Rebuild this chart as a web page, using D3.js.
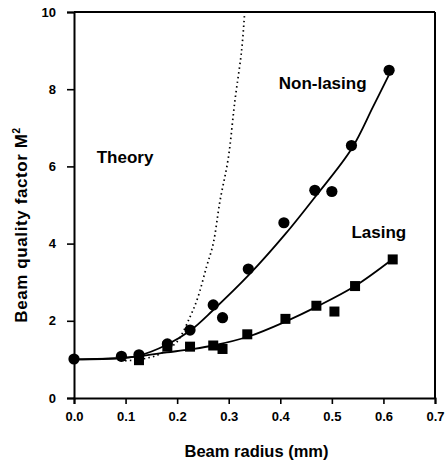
<!DOCTYPE html>
<html>
<head>
<meta charset="utf-8">
<script src="https://cdn.jsdelivr.net/npm/d3@7/dist/d3.min.js"></script>
<style>
  html, body { margin: 0; padding: 0; background: #fff; }
  svg { display: block; }
  text { font-family: "Liberation Sans", Arial, Helvetica, sans-serif; font-weight: bold; fill: #000; }
</style>
</head>
<body>
<svg id="chart" width="445" height="466"></svg>
<script>
// Measured beam quality factor M² versus beam radius (mm)
const nonLasingRadius = [0.0, 0.092, 0.126, 0.181, 0.225, 0.270, 0.288, 0.338, 0.407, 0.467, 0.500, 0.538, 0.611];
const nonLasingM2     = [1.01, 1.08, 1.12, 1.40, 1.76, 2.41, 2.08, 3.34, 4.54, 5.38, 5.35, 6.54, 8.49];

const lasingRadius = [0.126, 0.181, 0.225, 0.270, 0.288, 0.336, 0.410, 0.470, 0.505, 0.545, 0.618];
const lasingM2     = [0.98, 1.33, 1.33, 1.36, 1.27, 1.65, 2.05, 2.39, 2.24, 2.90, 3.59];

// Fitted curves (sampled)
const nonLasingFitRadius = [0.0, 0.09, 0.126, 0.18, 0.225, 0.27, 0.34, 0.41, 0.467, 0.538, 0.58, 0.61];
const nonLasingFitM2     = [1.0, 1.04, 1.10, 1.38, 1.74, 2.28, 3.20, 4.25, 5.20, 6.45, 7.55, 8.35];

const lasingFitRadius = [0.0, 0.09, 0.126, 0.18, 0.225, 0.27, 0.34, 0.41, 0.47, 0.545, 0.618];
const lasingFitM2     = [1.0, 1.03, 1.08, 1.18, 1.26, 1.36, 1.60, 1.98, 2.36, 2.90, 3.60];

// Theoretical prediction (dotted)
const theoryRadius = [0.09, 0.12, 0.14, 0.16, 0.18, 0.20, 0.225, 0.24, 0.257, 0.27, 0.283, 0.299, 0.312, 0.325, 0.331];
const theoryM2     = [0.97, 0.98, 1.03, 1.10, 1.25, 1.46, 2.10, 2.60, 3.40, 4.00, 5.10, 6.20, 7.70, 9.00, 10.0];

const xTicks = [0, 0.1, 0.2, 0.3, 0.4, 0.5, 0.6, 0.7];
const yTicks = [0, 2, 4, 6, 8, 10];

const xLabel = "Beam radius (mm)";
const yLabel = "Beam quality factor M";
const curveLabels = [
  { text: "Theory",     r: 0.044, m: 6.1 },
  { text: "Non-lasing", r: 0.397, m: 8.0 },
  { text: "Lasing",     r: 0.538, m: 4.15 }
];

const svg = d3.select("#chart");
const x = d3.scaleLinear().domain([0, 0.7]).range([74, 435]);
const y = d3.scaleLinear().domain([0, 10]).range([398, 12]);

const zip = (a, b) => a.map((v, i) => [v, b[i]]);

// frame
const frame = svg.append("g").attr("stroke", "#000").attr("stroke-width", 2).attr("fill", "none");
frame.append("line").attr("x1", x(0)).attr("x2", x(0.7)).attr("y1", y(10)).attr("y2", y(10));
frame.append("line").attr("x1", x(0.7)).attr("x2", x(0.7)).attr("y1", y(10)).attr("y2", y(0));

// axes
const xAxis = svg.append("g").attr("transform", `translate(0,${y(0)})`)
  .call(d3.axisBottom(x).tickValues(xTicks).tickFormat(d3.format(".1f")).tickSize(6).tickPadding(8));
const yAxis = svg.append("g").attr("transform", `translate(${x(0)},0)`)
  .call(d3.axisLeft(y).tickValues(yTicks).tickFormat(d3.format("d")).tickSize(7).tickPadding(11));
[xAxis, yAxis].forEach(g => {
  g.select(".domain").attr("stroke-width", 2).attr("stroke", "#000");
  g.selectAll(".tick line").attr("stroke-width", 1.6).attr("stroke", "#000");
  g.selectAll(".tick text").style("font-size", "13px").style("font-weight", "bold")
    .style("font-family", '"Liberation Sans", Arial, sans-serif');
});

// axis titles
svg.append("text").attr("x", 256.5).attr("y", 457).attr("text-anchor", "middle")
  .style("font-size", "16.5px").text(xLabel);
const yt = svg.append("text").attr("transform", `translate(27,${(330 + 120) / 2}) rotate(-90)`)
  .attr("text-anchor", "middle").style("font-size", "17px").style("letter-spacing", "0.6px");
yt.append("tspan").text(yLabel);
yt.append("tspan").attr("dy", -7).style("font-size", "10px").text("2");

// lines
const line = d3.line().x(d => x(d[0])).y(d => y(d[1])).curve(d3.curveCatmullRom.alpha(0.5));
svg.append("path").datum(zip(theoryRadius, theoryM2)).attr("d", line)
  .attr("fill", "none").attr("stroke", "#000").attr("stroke-width", 1.7)
  .attr("stroke-dasharray", "1.5,3.2");
svg.append("path").datum(zip(nonLasingFitRadius, nonLasingFitM2)).attr("d", line)
  .attr("fill", "none").attr("stroke", "#000").attr("stroke-width", 1.8);
svg.append("path").datum(zip(lasingFitRadius, lasingFitM2)).attr("d", line)
  .attr("fill", "none").attr("stroke", "#000").attr("stroke-width", 1.8);

// markers
svg.append("g").selectAll("rect").data(zip(lasingRadius, lasingM2)).join("rect")
  .attr("x", d => x(d[0]) - 5).attr("y", d => y(d[1]) - 5)
  .attr("width", 10).attr("height", 10).attr("fill", "#000");
svg.append("g").selectAll("circle").data(zip(nonLasingRadius, nonLasingM2)).join("circle")
  .attr("cx", d => x(d[0])).attr("cy", d => y(d[1])).attr("r", 5.6).attr("fill", "#000");

// curve labels
svg.append("g").selectAll("text").data(curveLabels).join("text")
  .attr("x", d => x(d.r)).attr("y", d => y(d.m))
  .style("font-size", "17px").text(d => d.text);
</script>
</body>
</html>
